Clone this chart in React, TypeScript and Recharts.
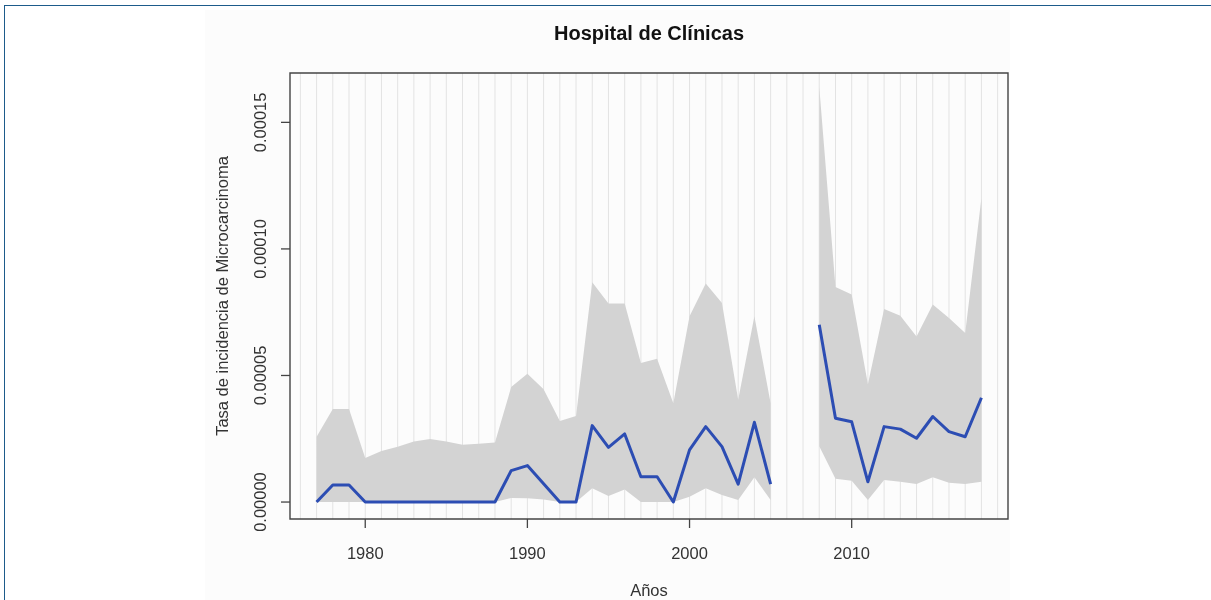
import { ComposedChart, Area, Line, XAxis, YAxis, ReferenceLine, ReferenceArea } from "recharts";

// years with no data (2006, 2007) are kept as null so the line and band break there
const years = [
  1977, 1978, 1979, 1980, 1981, 1982, 1983, 1984, 1985, 1986, 1987, 1988, 1989, 1990,
  1991, 1992, 1993, 1994, 1995, 1996, 1997, 1998, 1999, 2000, 2001, 2002, 2003, 2004,
  2005, 2006, 2007, 2008, 2009, 2010, 2011, 2012, 2013, 2014, 2015, 2016, 2017, 2018,
];
const rate = [
  0, 6.7e-6, 6.7e-6, 0, 0, 0, 0, 0, 0, 0, 0, 0, 1.24e-5, 1.44e-5,
  7.2e-6, 0, 0, 3.02e-5, 2.16e-5, 2.69e-5, 1.0e-5, 1.0e-5, 0, 2.06e-5, 2.98e-5, 2.19e-5, 7.1e-6, 3.15e-5,
  7.1e-6, null, null, 7.0e-5, 3.31e-5, 3.17e-5, 8.0e-6, 2.98e-5, 2.88e-5, 2.52e-5, 3.38e-5, 2.78e-5, 2.58e-5, 4.12e-5,
];
const lower = [
  0, 0, 0, 0, 0, 0, 0, 0, 0, 0, 0, 0, 1.6e-6, 1.5e-6,
  1.0e-6, 0, 0, 5.4e-6, 2.4e-6, 5.0e-6, 0, 0, 0, 2.1e-6, 5.4e-6, 2.8e-6, 8e-7, 9.8e-6,
  8e-7, null, null, 2.2e-5, 9.2e-6, 8.4e-6, 8e-7, 8.7e-6, 8.0e-6, 7.1e-6, 9.8e-6, 7.6e-6, 7.1e-6, 8.0e-6,
];
const upper = [
  2.58e-5, 3.68e-5, 3.68e-5, 1.74e-5, 2.02e-5, 2.18e-5, 2.39e-5, 2.49e-5, 2.39e-5, 2.26e-5, 2.3e-5, 2.35e-5, 4.54e-5, 5.07e-5,
  4.46e-5, 3.2e-5, 3.4e-5, 8.68e-5, 7.84e-5, 7.84e-5, 5.49e-5, 5.66e-5, 3.9e-5, 7.34e-5, 8.63e-5, 7.86e-5, 4.04e-5, 7.34e-5,
  3.9e-5, null, null, 1.64e-4, 8.5e-5, 8.2e-5, 4.65e-5, 7.63e-5, 7.36e-5, 6.54e-5, 7.8e-5, 7.27e-5, 6.68e-5, 1.2e-4,
];

const xTicks = [1980, 1990, 2000, 2010];
const yTicks = [0, 0.00005, 0.0001, 0.00015];
const yTickLabels = ["0.00000", "0.00005", "0.00010", "0.00015"];
const gridYears = Array.from({ length: 44 }, (_, i) => 1976 + i);

const xDomain = [1975.36, 2019.64];
const yDomain = [-0.0000067, 0.0001695];

const rows = years.map((year, i) => ({
  year,
  rate: rate[i],
  band: upper[i] == null ? null : [lower[i], upper[i]],
}));

const FONT = "'Liberation Sans', Arial, sans-serif";

function YTick({ x, y, payload }: any) {
  const i = yTicks.indexOf(payload.value);
  return (
    <text
      transform={`translate(${x - 15},${y}) rotate(-90)`}
      textAnchor="middle"
      fontSize={16.5}
      fontFamily={FONT}
      fill="#333"
    >
      {i >= 0 ? yTickLabels[i] : payload.value}
    </text>
  );
}

export default function App() {
  return (
    <div style={{ position: "absolute", left: 0, top: 0, width: 1211, height: 600, background: "#fff", overflow: "hidden" }}>
      <div style={{ position: "absolute", left: 4, top: 5, right: 0, bottom: 0, borderTop: "1px solid #1d5b8b", borderLeft: "1px solid #1d5b8b" }} />
      <div style={{ position: "absolute", left: 205, top: 10, width: 805, height: 590, background: "#fcfcfc" }} />
      <div style={{ position: "absolute", left: 0, top: 0 }}>
        <ComposedChart width={1211} height={600} data={rows} margin={{ top: 73, right: 203, bottom: 0, left: 210 }}>
          <XAxis type="number" dataKey="year" domain={xDomain} allowDataOverflow ticks={xTicks} height={81}
            axisLine={false} tickSize={9} tickMargin={19} tickLine={{ stroke: "#444", strokeWidth: 1.3 }}
            tick={{ fontSize: 16.5, fontFamily: FONT, fill: "#333" }} />
          <YAxis type="number" domain={yDomain} allowDataOverflow ticks={yTicks} width={80}
            axisLine={false} tickSize={9} tickMargin={0} tickLine={{ stroke: "#444", strokeWidth: 1.3 }}
            tick={<YTick />} />
          {/* year grid sits behind the band: darken blend keeps it off the grey area */}
          {gridYears.map((g) => (
            <ReferenceLine key={g} x={g} stroke="#e3e3e3" strokeWidth={1} ifOverflow="visible"
              zIndex={-50} style={{ mixBlendMode: "darken" }} />
          ))}
          <Area dataKey="band" fill="#d3d3d3" fillOpacity={1} stroke="none" isAnimationActive={false} connectNulls={false} />
          <Line dataKey="rate" stroke="#2c4db3" strokeWidth={3} dot={false} activeDot={false} connectNulls={false}
            strokeLinejoin="round" isAnimationActive={false} />
          <ReferenceArea x1={xDomain[0]} x2={xDomain[1]} y1={yDomain[0]} y2={yDomain[1]} ifOverflow="visible"
            fill="none" stroke="#444" strokeWidth={1.4} />
        </ComposedChart>
      </div>
      <svg width={1211} height={600} style={{ position: "absolute", left: 0, top: 0, pointerEvents: "none" }}>
        <text x={649} y={40} textAnchor="middle" fontSize={20} fontWeight="bold" fontFamily={FONT} fill="#111">
          Hospital de Clínicas
        </text>
        <text x={649} y={596} textAnchor="middle" fontSize={16.5} fontFamily={FONT} fill="#333">
          Años
        </text>
        <text transform="translate(228,296) rotate(-90)" textAnchor="middle" fontSize={16.5} fontFamily={FONT} fill="#333">
          Tasa de incidencia de Microcarcinoma
        </text>
      </svg>
    </div>
  );
}
